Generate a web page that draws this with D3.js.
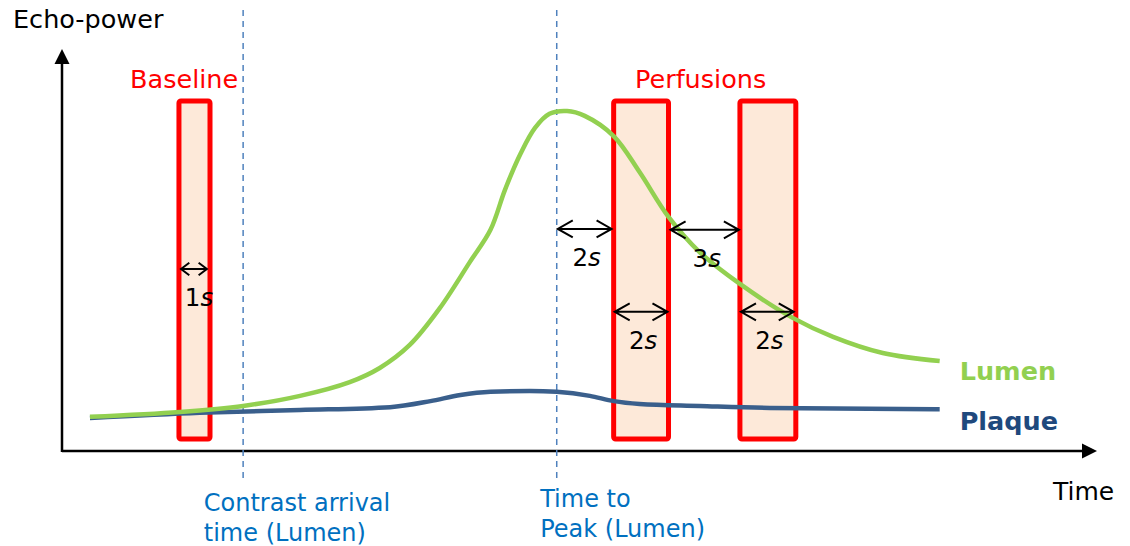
<!DOCTYPE html>
<html>
<head>
<meta charset="utf-8">
<script src="https://cdn.jsdelivr.net/npm/d3@7"></script>
<style>
  body { margin: 0; background: #fff; }
  svg { font-family: "DejaVu Sans", Verdana, sans-serif; }
</style>
</head>
<body>
<svg width="1130" height="546"></svg>
<script>
// time (t) and echo-power (v) in arbitrary units 0..100
const lumenT = [2.7, 11.4, 17.5, 23.0, 27.8, 30.7, 33.6, 36.5, 39.4, 41.4, 42.8, 44.3, 45.7, 47.1, 48.8, 50.5, 53.3, 55.8, 58.6, 61.6, 65.5, 70.6, 74.5, 79.3, 84.8];
const lumenV = [8.7, 9.9, 11.4, 13.9, 17.3, 20.8, 26.5, 35.6, 47.0, 55.0, 64.9, 73.8, 80.2, 83.7, 84.4, 83.2, 78.2, 69.3, 58.2, 49.5, 41.6, 33.2, 28.5, 24.5, 22.5];

const plaqueT = [2.7, 13.3, 23.0, 31.7, 35.6, 38.5, 41.4, 45.2, 47.8, 51.0, 53.3, 55.8, 61.6, 68.4, 84.8];
const plaqueV = [8.4, 9.7, 10.4, 11.1, 12.6, 14.1, 14.9, 15.1, 14.9, 13.9, 12.6, 11.9, 11.4, 10.9, 10.6];

// acquisition windows
const windowStart = [11.3, 53.3, 65.5];
const windowEnd   = [14.3, 58.6, 70.9];
const windowLow = 3.2, windowHigh = 86.9;

const windowTitles = ["Baseline", "Perfusions"];
const windowTitleT = [11.8, 61.7];
const windowTitleV = 90.1;

// time markers
const markerT = [17.5, 47.8];
const markerLabels = [["Contrast arrival", "time (Lumen)"], ["Time to", "Peak (Lumen)"]];
const markerLabelT = [13.7, 46.2];

// duration arrows
const spanFrom  = [11.5, 47.9, 58.8, 53.4, 65.6];
const spanTo    = [14.0, 53.1, 65.4, 58.5, 70.7];
const spanLevel = [45.3, 55.2, 55.0, 34.7, 34.7];
const spanSec   = ["1", "2", "3", "2", "2"];

const svg = d3.select("svg");

const x = d3.scaleLinear().domain([0, 100]).range([62, 1097]);
const y = d3.scaleLinear().domain([0, 100]).range([452, 48]);

// axes with arrow heads
svg.append("line")
    .attr("x1", x(0)).attr("y1", y(0) - 1)
    .attr("x2", x(100) - 12).attr("y2", y(0) - 1)
    .attr("stroke", "#000").attr("stroke-width", 2.5);
svg.append("path")
    .attr("d", "M" + x(100) + "," + (y(0) - 1) + "l-15,-7.5l0,15z")
    .attr("fill", "#000");
svg.append("line")
    .attr("x1", x(0)).attr("y1", y(0))
    .attr("x2", x(0)).attr("y2", y(100) + 12)
    .attr("stroke", "#000").attr("stroke-width", 2.5);
svg.append("path")
    .attr("d", "M" + x(0) + "," + (y(100) + 1) + "l-7.5,15l15,0z")
    .attr("fill", "#000");

svg.append("text").text("Echo-power")
    .attr("x", 13).attr("y", 28)
    .attr("font-size", 25.5).attr("fill", "#000");
svg.append("text").text("Time")
    .attr("x", 1053).attr("y", 500)
    .attr("font-size", 25).attr("fill", "#000");

// windows
svg.append("g").selectAll("rect")
    .data(windowStart)
    .enter().append("rect")
    .attr("x", function(d) { return x(d); })
    .attr("width", function(d, i) { return x(windowEnd[i]) - x(d); })
    .attr("y", y(windowHigh))
    .attr("height", y(windowLow) - y(windowHigh))
    .attr("rx", 2)
    .attr("fill", "#fde9d9")
    .attr("stroke", "#ff0000")
    .attr("stroke-width", 5);

svg.append("g").selectAll("text")
    .data(windowTitles)
    .enter().append("text")
    .text(function(d) { return d; })
    .attr("x", function(d, i) { return x(windowTitleT[i]); })
    .attr("y", y(windowTitleV))
    .attr("text-anchor", "middle")
    .attr("font-size", 25.5)
    .attr("fill", "#ff0000");

// dashed time markers
svg.append("g").selectAll("line")
    .data(markerT)
    .enter().append("line")
    .attr("x1", function(d) { return x(d); })
    .attr("x2", function(d) { return x(d); })
    .attr("y1", 10).attr("y2", 482)
    .attr("stroke", "#4f81bd")
    .attr("stroke-width", 1.5)
    .attr("stroke-dasharray", "6,5");

markerLabels.forEach(function(lines, i) {
    const t = svg.append("text")
        .attr("font-size", 24)
        .attr("fill", "#0070c0");
    lines.forEach(function(s, j) {
        t.append("tspan")
            .attr("x", x(markerLabelT[i]))
            .attr("y", (i === 0 ? 511 : 507) + j * 30)
            .text(s);
    });
});

// curves
const lineLumen = d3.line()
    .x(function(d) { return x(d[0]); })
    .y(function(d) { return y(d[1]); })
    .curve(d3.curveCatmullRom.alpha(0.5));
const linePlaque = d3.line()
    .x(function(d) { return x(d[0]); })
    .y(function(d) { return y(d[1]); })
    .curve(d3.curveMonotoneX);

const lumen = lumenT.map(function(t, i) { return [t, lumenV[i]]; });
const plaque = plaqueT.map(function(t, i) { return [t, plaqueV[i]]; });

svg.append("path").datum(plaque)
    .attr("d", linePlaque)
    .attr("fill", "none")
    .attr("stroke", "#3a5f8c")
    .attr("stroke-width", 4.5);
svg.append("path").datum(lumen)
    .attr("d", lineLumen)
    .attr("fill", "none")
    .attr("stroke", "#92d050")
    .attr("stroke-width", 4.5);

// series labels next to line ends
const lumenEnd = lumen[lumen.length - 1];
const plaqueEnd = plaque[plaque.length - 1];
svg.append("text").text("Lumen")
    .attr("x", x(lumenEnd[0]) + 20).attr("y", y(lumenEnd[1]) + 19)
    .attr("font-size", 25.5).attr("font-weight", "bold")
    .attr("fill", "#92d050");
svg.append("text").text("Plaque")
    .attr("x", x(plaqueEnd[0]) + 20).attr("y", y(plaqueEnd[1]) + 21)
    .attr("font-size", 25.5).attr("font-weight", "bold")
    .attr("fill", "#1f497d");

// duration arrows
const spans = svg.append("g");
spanFrom.forEach(function(t0, i) {
    const x0 = x(t0), x1 = x(spanTo[i]), yy = y(spanLevel[i]);
    const hl = Math.min(15, (x1 - x0) * 0.32), hh = Math.min(8.5, hl * 0.75);
    spans.append("path")
        .attr("d", "M" + x0 + "," + yy + "L" + x1 + "," + yy +
            "M" + (x0 + hl) + "," + (yy - hh) + "L" + x0 + "," + yy + "L" + (x0 + hl) + "," + (yy + hh) +
            "M" + (x1 - hl) + "," + (yy - hh) + "L" + x1 + "," + yy + "L" + (x1 - hl) + "," + (yy + hh))
        .attr("fill", "none")
        .attr("stroke", "#000")
        .attr("stroke-width", 2);
    const lab = spans.append("text")
        .attr("x", (x0 + x1) / 2 + (i === 0 ? 5 : 2))
        .attr("y", yy + 37)
        .attr("text-anchor", "middle")
        .attr("font-size", 24.5)
        .attr("fill", "#000");
    lab.append("tspan").text(spanSec[i]);
    lab.append("tspan").attr("font-style", "italic").text("s");
});
</script>
</body>
</html>
